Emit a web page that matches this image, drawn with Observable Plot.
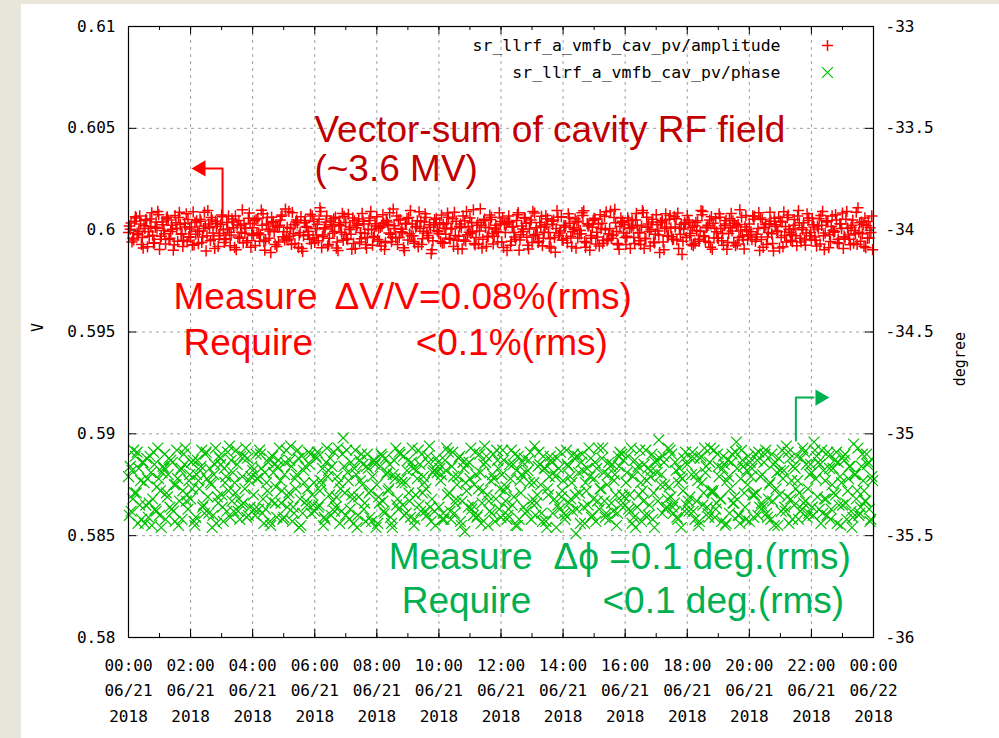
<!DOCTYPE html>
<html><head><meta charset="utf-8">
<script src="https://cdn.jsdelivr.net/npm/d3@7"></script>
<script src="https://cdn.jsdelivr.net/npm/@observablehq/plot@0.6"></script>
<style>
html,body{margin:0;padding:0;background:#e8e5da;width:999px;height:738px;overflow:hidden}
#panel{position:absolute;left:21px;top:4px;width:978px;height:734px;background:#fff}
</style></head><body><div id="panel"></div>
<script>
// ---- axes ----
const dayStart = new Date(Date.UTC(2018, 5, 21, 0, 0));
const dayEnd = new Date(Date.UTC(2018, 5, 22, 0, 0));
const vDomain = [0.58, 0.61];          // left axis (V)
const degDomain = [-36, -33];          // right axis (degree)
const vTicks = [0.58, 0.585, 0.59, 0.595, 0.6, 0.605, 0.61];
const sampleMinutes = 5;               // each array: one sample every 5 min
const offsetsMinutes = [0, 5 / 3, 10 / 3]; // arrays A, B, C interleaved

// ---- series: amplitude deviation from 0.6 V, in units of 1e-5 V ----
const ampBase = 0.6;
const ampDevA = [
 -12,35,-48,60,-5,-70,22,48,-30,85,-62,10,-95,40,-18,65,-40,5,72,-55,28,-80,15,52,
 -35,90,-20,-66,44,8,-102,30,62,-45,18,-28,75,-60,38,-10,55,-85,25,-40,100,-15,-52,33,
 12,-75,58,-22,80,-48,4,-110,42,20,-58,68,-8,-38,92,-70,26,50,-25,-90,36,14,-45,70,
 -60,28,110,-32,6,-78,45,-15,64,-100,22,-50,38,78,-20,-65,12,55,-42,30,-88,48,2,-30,
 66,-55,20,-95,40,85,-35,8,-70,52,-12,30,-48,96,-28,15,-82,44,-5,62,-38,-115,26,58,
 -18,74,-62,34,-40,10,88,-50,18,-92,46,-22,60,-8,-72,36,105,-45,14,-30,52,-68,24,-10,
 42,-85,30,70,-55,-12,48,-98,20,62,-35,6,-60,84,-20,38,-76,16,56,-42,28,-108,64,-4,
 -50,22,80,-30,12,-88,40,-18,95,-62,26,-40,58,-10,-78,34,68,-52,8,-26,102,-66,18,44,
 -36,60,-90,20,50,-14,-70,86,-42,30,4,-58,76,-24,40,-96,16,54,-32,66,-48,10,-120,38,
 72,-28,14,-64,46,-6,92,-54,24,-84,34,58,-40,8,-74,48,-16,82,-60,20,-36,64,-92,2,
 30,-46,68,-20,-100,52,12,-34,88,-66,26,-8,44,-82,18,74,-50,6,-28,96,-58,36,-14,60,
 -44,16,-78,56,24,-96,40,-22,70,-6,-62,32,84,-38,10,-72,50,-18,110,-54,28,-86,42,-12
];
const ampDevB = [
 20,-58,44,-15,70,-36,8,-82,55,-25,14,92,-44,26,-68,50,-6,-98,36,62,-20,-50,80,-32,
 16,-72,46,-4,-60,88,-28,12,50,-90,34,-16,66,-46,6,-76,40,70,-34,22,-62,10,58,-84,
 -26,52,-14,98,-56,30,-40,64,-8,-80,24,74,-48,14,-30,86,-66,36,-12,-104,48,-22,78,-38,
 8,-52,92,-24,40,-70,18,56,-88,26,-10,68,-42,4,-94,46,24,-58,82,-16,-36,60,-74,32,
 -46,14,76,-62,28,-20,104,-38,50,-8,-86,34,62,-28,-56,18,90,-70,40,-14,26,-96,52,-2,
 36,-64,10,84,-44,56,-26,-92,30,70,-54,18,-16,100,-36,-68,24,46,-80,12,64,-30,-6,86,
 -58,28,-100,40,16,-34,76,-48,6,58,-74,38,92,-22,-60,20,-40,72,-12,-88,50,8,-26,66,
 24,-40,62,-80,4,44,-18,86,-56,32,-98,14,54,-34,76,-64,2,-44,94,-24,36,-72,60,-14,
 -70,46,12,-36,82,-52,20,-90,64,-6,40,-62,26,-110,48,8,-30,72,-46,16,84,-20,-54,30,
 50,-16,-76,38,-44,96,-28,12,-60,66,-38,-8,80,-52,22,-94,56,-4,34,-68,100,-30,16,-46,
 -22,70,-54,8,60,-84,28,-12,44,-102,18,64,-36,90,-58,4,-20,52,-76,36,12,-48,80,-28,
 58,-34,20,-68,92,-14,46,-56,-2,76,-44,30,-90,54,-24,14,-64,88,-10,40,-80,22,-38,70
];
const ampDevC = [
 4,-40,66,-22,30,-88,52,-8,18,-64,40,76,-30,-2,58,-46,24,-72,10,88,-18,34,-56,6,
 -74,38,-6,54,-34,20,96,-52,-14,44,-80,28,2,-42,70,-24,12,-96,48,-10,30,-60,84,-20,
 46,-16,-54,24,-98,62,-4,36,-70,14,50,-32,104,-48,8,-18,40,-84,66,-28,18,-6,-66,42,
 -24,54,-86,12,70,-40,26,-6,-58,36,82,-20,-46,16,60,-90,32,-12,44,-70,4,92,-36,20,
 10,-78,34,48,-14,-56,22,70,-36,4,-100,58,-18,30,-64,46,8,-42,80,-26,14,-52,36,-8,
 -56,28,-20,64,6,-80,44,-30,12,-48,92,-10,38,-66,24,-4,-88,54,-34,74,-16,6,-58,30,
 60,-12,40,-74,18,-44,86,-22,-6,34,-92,50,-28,12,-54,68,-10,28,-80,44,-36,96,-14,-48,
 14,-62,34,-8,56,-38,-2,72,-84,20,-26,48,-68,30,8,-50,90,-18,-40,62,-6,-94,36,26,
 -30,8,50,-66,24,-12,96,-40,14,-78,54,-20,-4,36,-58,80,-26,10,-44,56,-90,28,6,-36,
 40,-70,22,-2,-54,76,-32,16,50,-94,8,-38,64,-16,30,-60,12,46,-76,28,-4,-48,72,-22,
 -8,54,-34,86,-46,14,-70,32,-18,58,-4,-88,40,-26,62,-10,-56,24,70,-40,2,-74,48,-12,
 26,-50,6,72,-28,44,-86,18,-10,50,-66,8,-32,92,-44,24,-2,-70,36,-18,60,-40,12,-96
];
// ---- series: phase deviation from -35.26 deg, in units of 0.01 deg ----
const phaseBase = -35.26;
const phaseDevA = [
 5,-12,18,-3,9,-16,2,14,-8,-19,11,0,-14,7,16,-5,-10,12,-17,4,8,-2,19,-11,
 -6,13,-15,3,10,-9,17,-13,1,6,-18,15,-4,9,-12,20,-7,2,11,-16,5,-1,14,-10,
 8,-14,4,16,-6,-11,12,-19,7,0,13,-8,-15,18,-3,10,-13,6,-20,15,2,-9,11,-4,
 -12,17,-2,9,-16,5,14,-7,-10,19,-1,24,-14,3,12,-18,6,-5,16,-11,10,-3,-17,13,
 1,-8,15,-13,7,11,-20,4,-6,16,-9,2,13,-15,9,-4,18,-12,5,-1,12,-17,8,14,
 -10,6,-16,19,-3,10,-13,1,15,-7,-22,11,4,-9,17,-14,7,-2,12,-19,3,16,-6,9,
 -15,13,0,-11,18,-5,8,-16,6,14,-12,2,-8,20,-4,11,-17,9,-1,15,-13,5,-9,17,
 3,-14,10,-6,16,-23,7,12,-10,-2,19,-15,4,9,-11,14,-7,1,-16,11,6,-13,17,-4,
 -9,15,-12,5,-20,10,2,-7,18,-14,8,-3,13,23,6,12,-10,0,16,-8,-15,9,4,-12,
 11,-5,17,-16,3,14,-9,7,-13,19,-2,-11,10,-6,15,-18,5,12,-8,22,-14,18,-3,8,
 -17,9,-4,13,-10,6,16,-15,2,-7,12,-19,8,4,-12,17,-6,10,-1,-16,14,-8,11,-13,
 7,22,15,-11,18,-6,-14,9,1,13,-18,5,-9,16,-2,10,-15,6,19,-10,3,-7,12,-16
];
const phaseDevB = [
 -14,8,-3,17,-9,12,-18,4,15,-6,-11,19,-2,10,-16,6,13,-12,1,-19,9,16,-7,3,
 12,-17,6,-1,18,-13,4,9,-20,11,-5,14,-10,2,17,-15,7,-3,-12,15,-8,19,-14,5,
 -4,16,-11,9,-18,2,14,-7,11,-15,19,-2,6,-10,13,-17,4,18,-6,-13,10,-1,16,-9,
 15,-10,3,-19,12,8,-14,17,-5,2,-12,10,18,-16,-4,9,-20,13,1,-8,16,-15,5,11,
 -18,10,-7,14,-2,-15,6,19,-11,4,15,-13,-3,12,-19,8,-9,16,2,-14,20,-6,-12,7,
 9,-16,13,-4,-12,17,-8,5,-17,12,2,-10,19,-14,6,-1,-18,11,15,-7,-13,4,18,-11,
 6,-2,-16,11,-9,16,-19,3,12,-13,8,17,-6,-14,10,1,15,-17,-4,13,7,-20,9,-5,
 -13,18,-8,2,14,-11,-3,16,-18,9,5,-14,12,-7,-1,19,-15,6,10,-12,-4,15,-9,13,
 2,-11,19,-15,8,-4,-17,11,3,-9,16,-20,7,14,-13,1,-6,18,-10,12,-16,5,-2,17,
 -7,14,-12,6,-19,15,-3,10,-15,-2,18,-8,5,-17,11,3,-13,16,-5,9,-18,13,-10,1,
 12,-4,16,-14,5,-10,18,-6,-16,11,-1,14,-12,8,20,-18,3,-9,15,-3,-11,17,-15,6,
 -10,18,-5,11,-13,3,17,-16,9,-4,12,-19,15,-8,4,-12,21,-6,-14,10,-2,16,-11,5
];
const phaseDevC = [
 10,-6,15,-18,3,12,-9,-15,7,17,-12,4,-20,9,-3,14,-11,1,18,-7,-16,11,-4,6,
 -1,-19,13,8,-10,16,-5,2,-14,19,-8,11,-17,5,-2,13,-12,18,-6,-9,15,-15,3,10,
 -11,4,18,-13,7,-2,-17,15,-8,10,3,-16,12,-5,20,-10,-1,14,-19,8,-7,17,-13,2,
 14,-9,1,-15,19,-4,10,-12,5,-18,16,-3,7,-11,-6,18,-14,3,11,-17,9,-2,13,-20,
 -5,16,-12,6,-1,-18,13,-9,17,2,-14,8,-7,19,-16,4,11,-3,-12,15,-10,7,-19,12,
 3,-13,8,17,-16,5,-6,14,-19,9,-2,12,-11,1,-15,16,-8,20,-4,-12,6,-17,13,-1,
 18,-7,-14,4,11,-19,15,-3,-10,7,13,-16,2,-8,17,-13,9,-20,5,12,-6,14,-11,-2,
 -16,11,5,-12,-4,15,-18,8,2,-9,14,-6,-17,19,-1,7,-13,12,-8,3,-19,10,16,-5,
 7,-4,-18,13,-10,18,-2,-14,9,5,-16,12,-7,1,15,-11,19,-5,-13,8,2,-20,14,-9,
 -12,6,14,-7,-17,2,19,-10,12,-3,-15,16,-6,9,-19,13,-1,-8,17,-14,4,10,-16,15,
 5,-15,-3,17,-8,12,-13,1,16,-19,7,-4,18,-10,-5,14,-16,9,3,-12,19,-7,-1,11,
 -14,4,12,-18,8,-6,15,-11,-3,17,-9,2,13,-16,10,-20,6,-2,-13,16,-7,11,-17,3
];

// ---- legend / labels ----
const seriesNames = ["sr_llrf_a_vmfb_cav_pv/amplitude", "sr_llrf_a_vmfb_cav_pv/phase"];
const leftLabel = "V";
const rightLabel = "degree";

// ---- annotations (hour of day, V value at text baseline) ----
const annText = ["Vector-sum of cavity RF field", "(~3.6 MV)", "Measure", "\u0394V/V=0.08%(rms)", "Require", "<0.1%(rms)",
                 "Measure", "\u0394\u03d5 =0.1 deg.(rms)", "Require", "<0.1 deg.(rms)"];
const annHour = [5.99, 5.99, 1.45, 6.64, 1.77, 9.25, 8.38, 13.69, 8.80, 15.27];
const annV = [0.60435, 0.60239, 0.59611, 0.59611, 0.59385, 0.59385, 0.58334, 0.58334, 0.58118, 0.58118];
const annColor = ["#c00000", "#c00000", "#ff0000", "#ff0000", "#ff0000", "#ff0000", "#00b050", "#00b050", "#00b050", "#00b050"];

// arrows: shaft polyline (hour, V) and head centre
const redArrowHour = [3.03, 3.03, 2.48];
const redArrowV = [0.60082, 0.60303, 0.60303];
const redHead = {hour: 2.33, v: 0.60303};
const greenArrowHour = [21.5, 21.5, 22.07];
const greenArrowV = [0.58967, 0.59178, 0.59178];
const greenHead = {hour: 22.28, v: 0.59178};

// ---- build ----
const hourToDate = h => new Date(dayStart.getTime() + h * 3600e3);
const minToDate = m => new Date(dayStart.getTime() + m * 60e3);
const degToV = d => vDomain[0] + (d - degDomain[0]) * (vDomain[1] - vDomain[0]) / (degDomain[1] - degDomain[0]);
const vToDeg = v => degDomain[0] + (v - vDomain[0]) * (degDomain[1] - degDomain[0]) / (vDomain[1] - vDomain[0]);

const amp = [ampDevA, ampDevB, ampDevC].flatMap((arr, k) =>
  arr.map((d, i) => ({t: minToDate(i * sampleMinutes + offsetsMinutes[k]), v: ampBase + d * 1e-5})));
const phase = [phaseDevA, phaseDevB, phaseDevC].flatMap((arr, k) =>
  arr.map((d, i) => ({t: minToDate(i * sampleMinutes + offsetsMinutes[k]), deg: phaseBase + d * 0.01})));
const ann = annText.map((s, i) => ({s, t: hourToDate(annHour[i]), v: annV[i], c: annColor[i]}));
const redArrow = redArrowHour.map((h, i) => ({t: hourToDate(h), v: redArrowV[i]}));
const greenArrow = greenArrowHour.map((h, i) => ({t: hourToDate(h), v: greenArrowV[i]}));

const xMajor = d3.utcHour.every(2).range(dayStart, new Date(dayEnd.getTime() + 1));
const xMinor = d3.utcHour.range(dayStart, new Date(dayEnd.getTime() + 1));
const xInner = xMajor.slice(1, -1);
const vInner = vTicks.slice(1, -1);

const W = 978, H = 734, mL = 107, mR = 126, mT = 22, mB = 101;
const fw = W - mL - mR, fh = H - mT - mB;
const gridStyle = {stroke: "#a0a0a0", strokeDasharray: "3,4", strokeWidth: 1};
const mono = "DejaVu Sans Mono";
const sans = "Liberation Sans, Arial, sans-serif";

const chart = Plot.plot({
  width: W, height: H,
  marginLeft: mL, marginRight: mR, marginTop: mT, marginBottom: mB,
  style: {fontFamily: mono, fontSize: "16px", background: "white", overflow: "visible"},
  x: {type: "utc", domain: [dayStart, dayEnd], axis: null},
  y: {domain: vDomain, axis: null},
  marks: [
    Plot.ruleX(xInner, {x: d => d, ...gridStyle}),
    Plot.ruleY(vInner, {y: d => d, ...gridStyle}),
    // inward ticks
    Plot.tickX(xMinor, {x: d => d, insetTop: fh - 4, stroke: "black"}),
    Plot.tickX(xMinor, {x: d => d, insetBottom: fh - 4, stroke: "black"}),
    Plot.tickX(xMajor, {x: d => d, insetTop: fh - 8, stroke: "black"}),
    Plot.tickX(xMajor, {x: d => d, insetBottom: fh - 8, stroke: "black"}),
    Plot.tickY(vTicks, {y: d => d, insetRight: fw - 8, stroke: "black"}),
    Plot.tickY(vTicks, {y: d => d, insetLeft: fw - 8, stroke: "black"}),
    // data
    Plot.dot(phase, {x: "t", y: d => degToV(d.deg), symbol: "times", r: 5, stroke: "#00c000", strokeWidth: 1.2}),
    Plot.dot(amp, {x: "t", y: "v", symbol: "plus", r: 3.7, stroke: "#ff0000", strokeWidth: 1.5}),
    Plot.frame({stroke: "black", strokeWidth: 1.2}),
    // axes
    Plot.axisX({ticks: xMajor, tickSize: 0, tickPadding: 15, lineHeight: 1.6, label: null,
      tickFormat: d3.utcFormat("%H:%M\n%m/%d\n%Y"), fontSize: 16}),
    Plot.axisY({ticks: vTicks, tickSize: 0, tickPadding: 13, label: null,
      tickFormat: d => String(+d.toFixed(3)), fontSize: 16}),
    Plot.axisY({anchor: "right", ticks: vTicks, tickSize: 0, tickPadding: 12, label: null,
      tickFormat: d => String(Math.round(vToDeg(d) * 10) / 10), fontSize: 16}),
    Plot.text([leftLabel], {frameAnchor: "left", dx: -90, rotate: -90, fontSize: 15, text: d => d}),
    Plot.text([rightLabel], {frameAnchor: "right", dx: 87, rotate: -90, fontSize: 15, text: d => d}),
    // legend
    Plot.text([seriesNames[0]], {frameAnchor: "top-right", dx: -93, dy: 19, textAnchor: "end", lineAnchor: "middle", fontSize: 16.5, text: d => d}),
    Plot.text([seriesNames[1]], {frameAnchor: "top-right", dx: -93, dy: 46, textAnchor: "end", lineAnchor: "middle", fontSize: 16.5, text: d => d}),
    Plot.dot([0], {frameAnchor: "top-right", dx: -46, dy: 19, symbol: "plus", r: 3.7, stroke: "#ff0000", strokeWidth: 1.5}),
    Plot.dot([0], {frameAnchor: "top-right", dx: -46, dy: 46, symbol: "times", r: 5, stroke: "#00c000", strokeWidth: 1.2}),
    // arrows
    Plot.line(redArrow, {x: "t", y: "v", stroke: "#ff0000", strokeWidth: 2}),
    Plot.dot([redHead], {x: d => hourToDate(d.hour), y: "v", symbol: "triangle", r: 6, rotate: -90, fill: "#ff0000", stroke: "none"}),
    Plot.line(greenArrow, {x: "t", y: "v", stroke: "#00b050", strokeWidth: 2}),
    Plot.dot([greenHead], {x: d => hourToDate(d.hour), y: "v", symbol: "triangle", r: 6, rotate: 90, fill: "#00b050", stroke: "none"}),
    // annotation texts
    Plot.text(ann, {x: "t", y: "v", text: "s", fill: "c", textAnchor: "start", lineAnchor: "bottom",
      fontFamily: sans, fontSize: 37})
  ]
});
document.getElementById("panel").appendChild(chart);
</script></body></html>
